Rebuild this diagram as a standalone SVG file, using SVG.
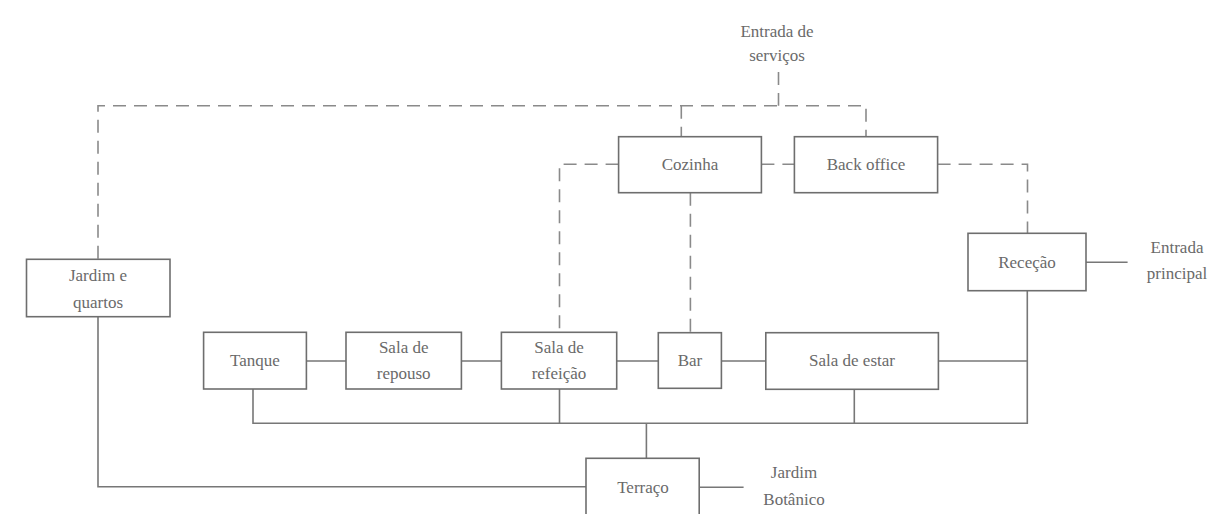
<svg xmlns="http://www.w3.org/2000/svg" width="1222" height="514" viewBox="0 0 1222 514">
<style>
.box{fill:#fff;stroke:#6e6e6e;stroke-width:1.6}
.t{font-family:"Liberation Serif","Times New Roman",serif;font-size:17px;fill:#6a6a6a;text-anchor:middle}
.s{fill:none;stroke:#777;stroke-width:1.6}
.d{fill:none;stroke:#8a8a8a;stroke-width:1.6;stroke-dasharray:13 8}
</style>
<rect width="1222" height="514" fill="#fff"/>
<g id="connectors">
<path class="d" d="M778.5 72 V105.7"/>
<path class="d" d="M98 258.7 V105.7 H866 V136.7"/>
<path class="d" d="M681.3 105.7 V136.7"/>
<path class="d" d="M618.6 164.3 H559.5 V332.3"/>
<path class="d" d="M761.4 164.3 H794.4"/>
<path class="d" d="M937.6 164.3 H1027.5 V233.3"/>
<path class="d" d="M690.4 192.7 V332.7"/>
<path class="s" d="M1086 262.3 H1127.6"/>
<path class="s" d="M1027.3 290.7 V423.3 H253 V389"/>
<path class="s" d="M938.4 361 H1027.3"/>
<path class="s" d="M854.3 389.3 V423.3"/>
<path class="s" d="M559.5 389 V423.3"/>
<path class="s" d="M646.4 423.3 V458.3"/>
<path class="s" d="M306.4 361 H346 M461.4 361 H501.4 M616.7 361 H658.3 M721.4 361 H765.8"/>
<path class="s" d="M98 316.7 V486.7 H586"/>
<path class="s" d="M699.2 487.3 H743.6"/>
</g>
<g id="entrada-servicos"><text class="t" x="777" y="37">Entrada de</text><text class="t" x="777" y="61">serviços</text></g>
<g id="cozinha"><rect class="box" x="618.6" y="136.7" width="142.8" height="56"/><text class="t" x="690" y="170">Cozinha</text></g>
<g id="back-office"><rect class="box" x="794.4" y="136.7" width="143.2" height="56"/><text class="t" x="866" y="170">Back office</text></g>
<g id="rececao"><rect class="box" x="968" y="233.3" width="118" height="57.4"/><text class="t" x="1027" y="267.5">Receção</text></g>
<g id="entrada-principal"><text class="t" x="1177" y="252.5">Entrada</text><text class="t" x="1177" y="279">principal</text></g>
<g id="jardim-quartos"><rect class="box" x="26.5" y="259.3" width="143.5" height="57.4"/><text class="t" x="98" y="281">Jardim e</text><text class="t" x="98" y="307.5">quartos</text></g>
<g id="tanque"><rect class="box" x="203.6" y="332.3" width="102.8" height="56.7"/><text class="t" x="255" y="366">Tanque</text></g>
<g id="sala-repouso"><rect class="box" x="346" y="332.3" width="115.4" height="56.7"/><text class="t" x="403.7" y="353">Sala de</text><text class="t" x="403.7" y="378.5">repouso</text></g>
<g id="sala-refeicao"><rect class="box" x="501.4" y="332.3" width="115.3" height="56.7"/><text class="t" x="559" y="353">Sala de</text><text class="t" x="559" y="378.5">refeição</text></g>
<g id="bar"><rect class="box" x="658.3" y="332.7" width="63.1" height="55.6"/><text class="t" x="690" y="366">Bar</text></g>
<g id="sala-estar"><rect class="box" x="765.8" y="332.7" width="172.6" height="56.6"/><text class="t" x="852" y="366">Sala de estar</text></g>
<g id="terraco"><rect class="box" x="586" y="458.3" width="113.2" height="62"/><text class="t" x="643" y="492.5">Terraço</text></g>
<g id="jardim-botanico"><text class="t" x="794" y="478">Jardim</text><text class="t" x="794" y="504.5">Botânico</text></g>
</svg>
